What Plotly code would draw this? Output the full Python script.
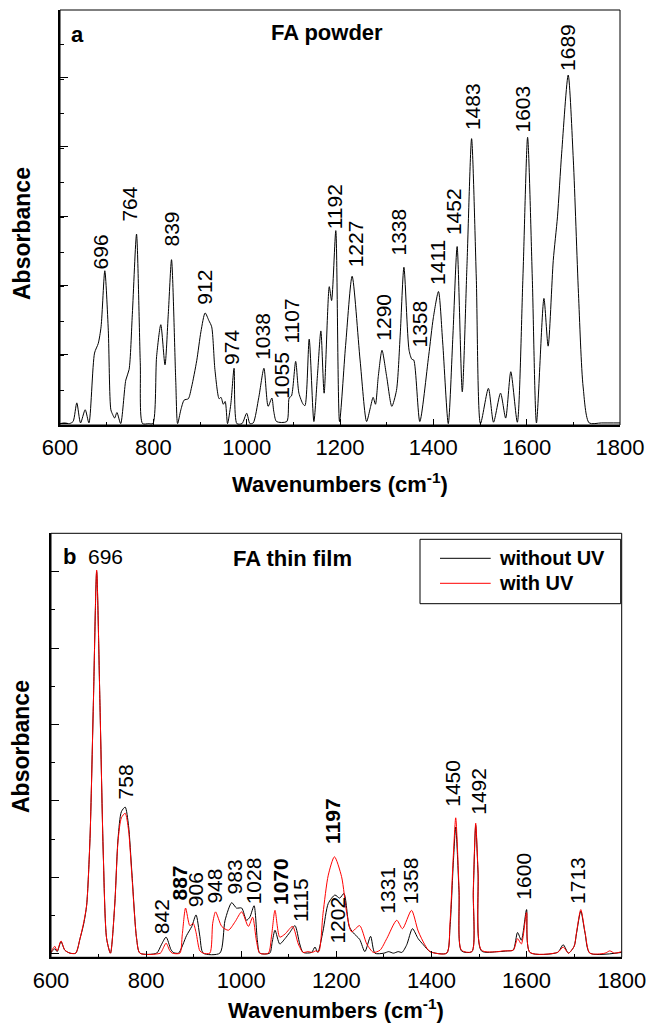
import plotly.graph_objects as go

# ---------------- Panel a : FA powder ----------------
wn_a = [600, 610, 620, 628, 636, 644, 654, 662, 674, 682, 688, 696, 703.5, 709, 713, 717, 722, 730,
        741, 748, 755, 764, 772, 777, 790, 799, 807, 816, 825, 832, 839, 848, 852, 859, 866, 875,
        882, 893, 902, 911, 919, 925, 932, 941, 945, 950, 954, 959, 966, 973, 979, 990, 1000, 1007,
        1014, 1026, 1037, 1046, 1054, 1058, 1064, 1086, 1091, 1096, 1105, 1112, 1121, 1125, 1134,
        1144, 1152, 1159, 1166, 1177, 1182, 1191, 1199, 1212, 1226, 1243, 1257, 1265, 1271, 1276,
        1282, 1290, 1300, 1311, 1321, 1329, 1337, 1348, 1354, 1358, 1371, 1390, 1400, 1411, 1420,
        1432, 1442, 1451, 1462, 1472, 1482, 1492, 1501, 1518, 1529, 1544, 1555, 1566, 1580, 1592,
        1602, 1612, 1621, 1637, 1646, 1657, 1666, 1675, 1689, 1700, 1711, 1721, 1734, 1760, 1800]
abs_a = [0.02, 0.03, 0.02, 0.05, 0.32, 0.03, 0.22, 0.03, 1.04, 1.18, 1.42, 2.23, 1.37, 0.22, 0.15, 0.10, 0.18, 0.02,
         0.65, 0.80, 1.60, 2.76, 0.90, 0.02, 0.02, 0.02, 0.99, 1.45, 0.87, 1.60, 2.39, 0.65, 0.02, 0.22, 0.36, 0.38,
         0.55, 0.93, 1.35, 1.62, 1.51, 1.42, 0.80, 0.38, 0.40, 0.30, 0.34, 0.02, 0.30, 0.82, 0.02, 0.02, 0.17, 0.02,
         0.03, 0.40, 0.82, 0.27, 0.39, 0.20, 0.05, 0.05, 0.39, 0.42, 0.92, 0.46, 0.30, 0.28, 1.24,
         0.05, 0.75, 1.36, 0.46, 2.00, 1.80, 2.81, 0.05, 1.15, 2.15, 0.94, 0.05, 0.25, 0.40, 0.30,
         0.70, 1.08, 0.70, 0.27, 0.50, 1.30, 2.28, 1.08, 0.95, 0.94, 0.05, 1.00, 1.55, 1.93, 1.20,
         0.02, 1.30, 2.58, 0.48, 2.29, 4.14, 2.14, 0.02, 0.53, 0.04, 0.46, 0.10, 0.77, 0.04, 2.14,
         4.16, 2.14, 0.03, 1.83, 1.14, 2.38, 3.01, 3.93, 5.06, 3.83, 1.90, 0.55, 0.03, 0.03, 0.03]

labels_a = ["696", "764", "839", "912", "974", "1038", "1055", "1107", "1192", "1227",
            "1290", "1338", "1358", "1411", "1452", "1483", "1603", "1689"]
label_x_a = [686, 748, 838, 909, 969, 1035, 1074, 1097, 1189, 1234,
             1294, 1326, 1371, 1409, 1443, 1484, 1592, 1689]
label_y_a = [2.23, 2.92, 2.56, 1.72, 0.85, 0.92, 0.36, 1.17, 2.82, 2.27,
             1.21, 2.44, 1.11, 2.01, 2.73, 4.25, 4.22, 5.10]

# ---------------- Panel b : FA thin film ----------------
wn_b_noUV = [600, 605, 608, 613, 621, 629, 640, 652, 661, 669, 675, 682, 689, 696, 703, 710, 717, 725,
             734, 741, 748, 756, 763, 770, 780, 787, 822, 832, 842, 852, 857, 868, 885, 896, 905, 913,
             920, 955, 966, 980, 990, 1001, 1011, 1018, 1027, 1034, 1039, 1060, 1065, 1071, 1081, 1092,
             1102, 1113, 1123, 1130, 1148, 1155, 1161, 1172, 1183, 1197, 1207, 1216, 1227, 1235, 1249,
             1260, 1272, 1281, 1300, 1310, 1320, 1330, 1338, 1348, 1360, 1372, 1383, 1397, 1432, 1439,
             1446, 1451, 1458, 1463, 1485, 1488, 1493, 1498, 1505, 1540, 1560, 1572, 1581, 1589, 1600,
             1607, 1665, 1677, 1688, 1700, 1705, 1714, 1723, 1733, 1800]
abs_b_noUV = [0.02, 0.05, 0.07, 0.03, 0.16, 0.05, 0.01, 0.01, 0.20, 0.40, 0.64, 1.51, 3.25, 5.00, 3.25, 1.29, 0.20, 0.01,
              0.64, 1.51, 1.86, 1.92, 1.68, 1.07, 0.20, 0.01, 0.01, 0.12, 0.22, 0.06, 0.02, 0.01, 0.24, 0.36, 0.51, 0.23,
              0.01, 0.01, 0.44, 0.67, 0.60, 0.60, 0.44, 0.48, 0.63, 0.17, 0.01, 0.01, 0.15, 0.31, 0.13, 0.20,
              0.28, 0.37, 0.13, 0.02, 0.02, 0.09, 0.02, 0.30, 0.66, 0.77, 0.73, 0.79, 0.36, 0.28, 0.19,
              0.03, 0.23, 0.01, 0.01, 0.03, 0.01, 0.03, 0.02, 0.12, 0.33, 0.20, 0.12, 0.03, 0.01, 0.35,
              1.20, 1.66, 0.80, 0.04, 0.03, 0.80, 1.68, 1.05, 0.04, 0.03, 0.04, 0.05, 0.28, 0.18, 0.58,
              0.02, 0.02, 0.12, 0.01, 0.10, 0.27, 0.56, 0.27, 0.01, 0.02]

wn_b_UV = [600, 605, 608, 613, 621, 629, 640, 652, 661, 669, 675, 682, 689, 696, 703, 710, 717, 725,
           734, 741, 748, 756, 763, 770, 780, 787, 830, 834, 842, 850, 855, 871, 876, 883, 892, 899, 905,
           913, 920, 934, 940, 946, 959, 973, 987, 1001, 1015, 1024, 1032, 1039, 1057, 1064, 1071, 1081,
           1092, 1108, 1120, 1130, 1140, 1150, 1156, 1163, 1172, 1183, 1196, 1211, 1222, 1232, 1249,
           1264, 1278, 1292, 1306, 1327, 1339, 1358, 1372, 1386, 1397, 1432, 1439, 1446, 1451, 1458,
           1463, 1485, 1488, 1493, 1498, 1505, 1540, 1550, 1572, 1581, 1589, 1600, 1607, 1665, 1677,
           1688, 1700, 1705, 1714, 1723, 1733, 1765, 1775, 1785, 1800]
abs_b_UV = [0.02, 0.08, 0.10, 0.04, 0.17, 0.05, 0.01, 0.01, 0.20, 0.42, 0.64, 1.51, 3.25, 5.02, 3.25, 1.29, 0.20, 0.01,
            0.64, 1.48, 1.78, 1.84, 1.62, 1.03, 0.20, 0.01, 0.01, 0.05, 0.14, 0.04, 0.01, 0.01, 0.25, 0.60, 0.37, 0.40, 0.28,
            0.04, 0.01, 0.01, 0.40, 0.55, 0.36, 0.31, 0.42, 0.55, 0.36, 0.48, 0.17, 0.01, 0.01, 0.25, 0.57, 0.22,
            0.26, 0.36, 0.13, 0.02, 0.03, 0.02, 0.04, 0.03, 0.53, 1.03, 1.27, 1.01, 0.53, 0.29, 0.37,
            0.13, 0.02, 0.05, 0.20, 0.44, 0.33, 0.57, 0.30, 0.12, 0.03, 0.01, 0.41, 1.29, 1.78, 0.85,
            0.05, 0.03, 0.85, 1.71, 1.07, 0.05, 0.03, 0.04, 0.05, 0.20, 0.13, 0.54, 0.02, 0.02, 0.09,
            0.01, 0.10, 0.28, 0.58, 0.28, 0.01, 0.01, 0.04, 0.01, 0.03]

labels_b = ["758", "842", "887", "906", "948", "983", "1028", "1070", "1115", "1197",
            "1202", "1331", "1358", "1450", "1492", "1600", "1713"]
label_bold_b = ["887", "1070", "1197"]
label_x_b = [757, 831, 871, 904, 943, 985, 1025, 1081, 1125, 1192,
             1202, 1307, 1355, 1444, 1500, 1594, 1707]
label_y_b = [2.01, 0.25, 0.69, 0.60, 0.64, 0.76, 0.63, 0.63, 0.40, 1.42,
             0.12, 0.51, 0.63, 1.91, 1.80, 0.70, 0.64]

series_names = ["without UV", "with UV"]

# ---------------- Figure ----------------
W, H = 650, 1023
FONT = "Liberation Sans, Arial, sans-serif"

def px(x):
    return x / W

def py(y):
    return 1 - y / H

fig = go.Figure()
line_shape = dict(shape="spline", smoothing=0.7, width=1)

fig.add_trace(go.Scatter(x=wn_a, y=abs_a, mode="lines", line=dict(color="black", **line_shape),
                         xaxis="x", yaxis="y", showlegend=False, name="FA powder"))
fig.add_trace(go.Scatter(x=wn_b_noUV, y=abs_b_noUV, mode="lines", line=dict(color="black", **line_shape),
                         xaxis="x2", yaxis="y2", showlegend=False, name=series_names[0]))
fig.add_trace(go.Scatter(x=wn_b_UV, y=abs_b_UV, mode="lines", line=dict(color="#ff0000", **line_shape),
                         xaxis="x2", yaxis="y2", showlegend=False, name=series_names[1]))

tickfont = dict(family=FONT, size=22, color="black")

def xaxis_cfg(domain, anchor):
    return dict(domain=domain, anchor=anchor, range=[600, 1800], tickmode="linear", tick0=600, dtick=200,
                ticks="inside", ticklen=6, tickwidth=1, tickcolor="black", tickfont=tickfont,
                showline=True, linewidth=2, linecolor="black", mirror=False, showgrid=False, zeroline=False,
                minor=dict(ticks="inside", ticklen=3, dtick=100, tickcolor="black", showgrid=False),
                ticklabelstandoff=2, automargin=False)

def yaxis_cfg(domain, anchor, rng, tick0):
    return dict(domain=domain, anchor=anchor, range=rng, tickmode="linear", tick0=tick0, dtick=1,
                ticks="inside", ticklen=8, tickwidth=1, tickcolor="black", showticklabels=False,
                showline=True, linewidth=2, linecolor="black", mirror=False, showgrid=False, zeroline=False,
                minor=dict(ticks="inside", ticklen=4, dtick=0.5, tickcolor="black", showgrid=False),
                automargin=False)

fig.update_layout(
    template="none",
    width=W, height=H, margin=dict(l=0, r=0, t=0, b=0, autoexpand=False),
    paper_bgcolor="white", plot_bgcolor="white",
    font=dict(family=FONT, color="black"),
    showlegend=False,
    xaxis=xaxis_cfg([px(60), px(620)], "y"),
    yaxis=yaxis_cfg([py(425), py(10)], "x", [0, 6.0], 0.02),
    xaxis2=xaxis_cfg([px(51), px(621.7)], "y2"),
    yaxis2=yaxis_cfg([py(957.3), py(533.3)], "x2", [-0.044, 5.5], 0),
)

shapes = [
    dict(type="rect", xref="x domain", yref="y domain", x0=0, x1=1, y0=0, y1=1,
         line=dict(color="black", width=1)),
    dict(type="rect", xref="x2 domain", yref="y2 domain", x0=0, x1=1, y0=0, y1=1,
         line=dict(color="black", width=1)),
    # legend box
    dict(type="rect", xref="paper", yref="paper", x0=px(420), x1=px(620.7), y0=py(603.7), y1=py(539.3),
         line=dict(color="black", width=1), fillcolor="white"),
    dict(type="line", xref="paper", yref="paper", x0=px(440), x1=px(490.7), y0=py(558.3), y1=py(558.3),
         line=dict(color="black", width=1)),
    dict(type="line", xref="paper", yref="paper", x0=px(440), x1=px(490.7), y0=py(583.3), y1=py(583.3),
         line=dict(color="#ff0000", width=1)),
]

ann = []
lab_font = dict(family=FONT, size=21, color="black")
for t, x, y in zip(labels_a, label_x_a, label_y_a):
    ann.append(dict(text=t, x=x, y=y, xref="x", yref="y", textangle=-90, xanchor="center",
                    yanchor="bottom", showarrow=False, font=lab_font, borderpad=0))
for t, x, y in zip(labels_b, label_x_b, label_y_b):
    txt = f"<b>{t}</b>" if t in label_bold_b else t
    ann.append(dict(text=txt, x=x, y=y, xref="x2", yref="y2", textangle=-90, xanchor="center",
                    yanchor="bottom", showarrow=False, font=lab_font, borderpad=0))

# horizontal 696 label in panel b
ann.append(dict(text="696", x=px(106), y=py(556), xref="paper", yref="paper", xanchor="center",
                yanchor="middle", showarrow=False, font=lab_font))
# panel letters and titles
title_font = dict(family=FONT, size=22, color="black")
ann += [
    dict(text="<b>a</b>", x=px(77.5), y=py(35), xref="paper", yref="paper", showarrow=False,
         xanchor="center", yanchor="middle", font=title_font),
    dict(text="<b>FA powder</b>", x=px(327), y=py(33), xref="paper", yref="paper", showarrow=False,
         xanchor="center", yanchor="middle", font=title_font),
    dict(text="<b>b</b>", x=px(69), y=py(556), xref="paper", yref="paper", showarrow=False,
         xanchor="center", yanchor="middle", font=title_font),
    dict(text="<b>FA thin film</b>", x=px(292), y=py(558), xref="paper", yref="paper", showarrow=False,
         xanchor="center", yanchor="middle", font=title_font),
    dict(text="<b>" + series_names[0] + "</b>", x=px(497), y=py(558.3), xref="paper", yref="paper",
         showarrow=False, xanchor="left", yanchor="middle", font=dict(family=FONT, size=20, color="black")),
    dict(text="<b>" + series_names[1] + "</b>", x=px(497), y=py(583.3), xref="paper", yref="paper",
         showarrow=False, xanchor="left", yanchor="middle", font=dict(family=FONT, size=20, color="black")),
    # axis titles
    dict(text="<b>Absorbance</b>", x=px(22), y=py(234), xref="paper", yref="paper", showarrow=False,
         textangle=-90, xanchor="center", yanchor="middle", font=dict(family=FONT, size=23, color="black")),
    dict(text="<b>Absorbance</b>", x=px(21), y=py(747), xref="paper", yref="paper", showarrow=False,
         textangle=-90, xanchor="center", yanchor="middle", font=dict(family=FONT, size=23, color="black")),
    dict(text="<b>Wavenumbers (cm<sup>-1</sup>)</b>", x=px(340), y=py(483), xref="paper", yref="paper",
         showarrow=False, xanchor="center", yanchor="middle", font=dict(family=FONT, size=22, color="black")),
    dict(text="<b>Wavenumbers (cm<sup>-1</sup>)</b>", x=px(336), y=py(1009), xref="paper", yref="paper",
         showarrow=False, xanchor="center", yanchor="middle", font=dict(family=FONT, size=22, color="black")),
]

fig.update_layout(shapes=shapes, annotations=ann)
fig.write_html("out.html")
